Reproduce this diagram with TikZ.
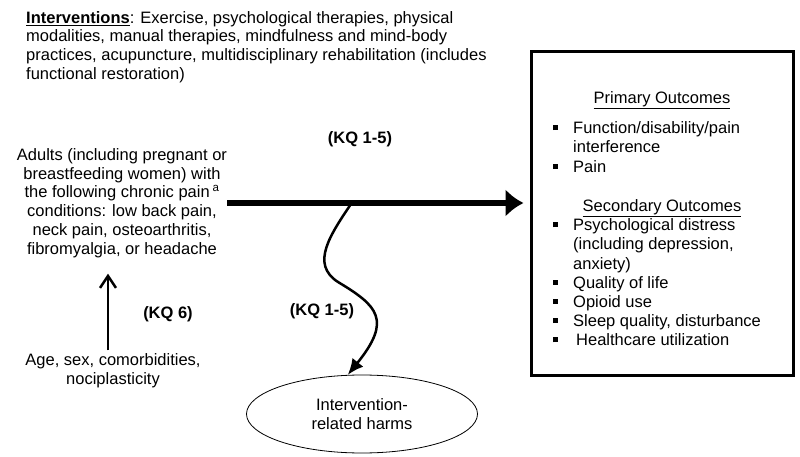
\documentclass[tikz,border=0pt]{standalone}
\usepackage{fontspec}
\setmainfont{Liberation Sans}
\usepackage{tikz}
\usetikzlibrary{arrows.meta, positioning, shapes.geometric}
\newcommand{\outbul}{\makebox[20pt][l]{\rule[3.5pt]{5pt}{5pt}}}
\newcommand{\outind}{\hspace*{20pt}}

\begin{document}
\begin{tikzpicture}[x=1pt, y=-1pt,
    every node/.style={font=\fontsize{16.5}{18.7}\selectfont, inner sep=0pt},
    popbox/.style={align=center},
    outframe/.style={rectangle, draw, line width=3pt, minimum width=262pt, minimum height=323pt},
    outhead/.style={align=center},
    outlist/.style={align=left, anchor=north west, font=\fontsize{16.5}{19.2}\selectfont},
    harmbox/.style={ellipse, draw, line width=0.8pt, minimum width=231pt, minimum height=78pt, align=center},
    kqlab/.style={font=\fontsize{16.5}{18.7}\selectfont\bfseries},
    mainflow/.style={-{Latex[length=18pt,width=28pt]}, line width=6pt},
    harmflow/.style={-{Latex[length=16pt,width=14pt]}, line width=2.5pt},
    modflow/.style={-{Straight Barb[length=12pt,width=16pt]}, line width=2.5pt}
]
\useasboundingbox (0,0) rectangle (800,457);

% Interventions
\node[anchor=north west, align=left] (intv) at (26,11) {\underline{\textbf{Interventions}}: Exercise, psychological therapies, physical\\modalities, manual therapies, mindfulness and mind-body\\practices, acupuncture, multidisciplinary rehabilitation (includes\\functional restoration)};

% Population and moderators
\node[popbox] (pop) at (122,203) {Adults (including pregnant or\\breastfeeding women) with\\the following chronic pain\,\textsuperscript{a}\\conditions: low back pain,\\neck pain, osteoarthritis,\\fibromyalgia, or headache};
\node[popbox] (age) at (113,370.5) {Age, sex, comorbidities,\\nociplasticity};

% Outcomes
\node[outframe] (outbox) at (662,213.5) {};
\node[outhead] (prim) at (662,100) {\underline{Primary Outcomes}};
\node[outlist] (primlist) at (553,121.5) {\outbul Function/disability/pain\\\outind interference\\\outbul Pain};
\node[outhead] (sec) at (662,208) {\underline{Secondary Outcomes}};
\node[outlist] (seclist) at (553,218.5) {\outbul Psychological distress\\\outind (including depression,\\\outind anxiety)\\\outbul Quality of life\\\outbul Opioid use\\\outbul Sleep quality, disturbance\\\makebox[23pt][l]{\rule[3.5pt]{5pt}{5pt}}Healthcare utilization};

% Harms
\node[harmbox] (harm) at (362,414) {Intervention-\\related harms};

% Key questions
\node[kqlab] (kqmain) at (360,139) {(KQ 1-5)};
\node[kqlab] (kqharm) at (322,311) {(KQ 1-5)};
\node[kqlab] (kqmod) at (168,314) {(KQ 6)};

% Flows
\draw[mainflow, shorten >=6pt] (pop.east) -- (pop.east -| outbox.west);
\coordinate (split) at (353,201);
\draw[harmflow] (split) .. controls (330,235) and (310,264) .. (338,282) .. controls (378,306) and (392,320) .. (harm.110);
\coordinate (kqfoot) at (108,0);
\draw[modflow, shorten <=3pt, shorten >=16pt] (age.north -| kqfoot) -- (pop.south -| kqfoot);
\end{tikzpicture}
\end{document}
